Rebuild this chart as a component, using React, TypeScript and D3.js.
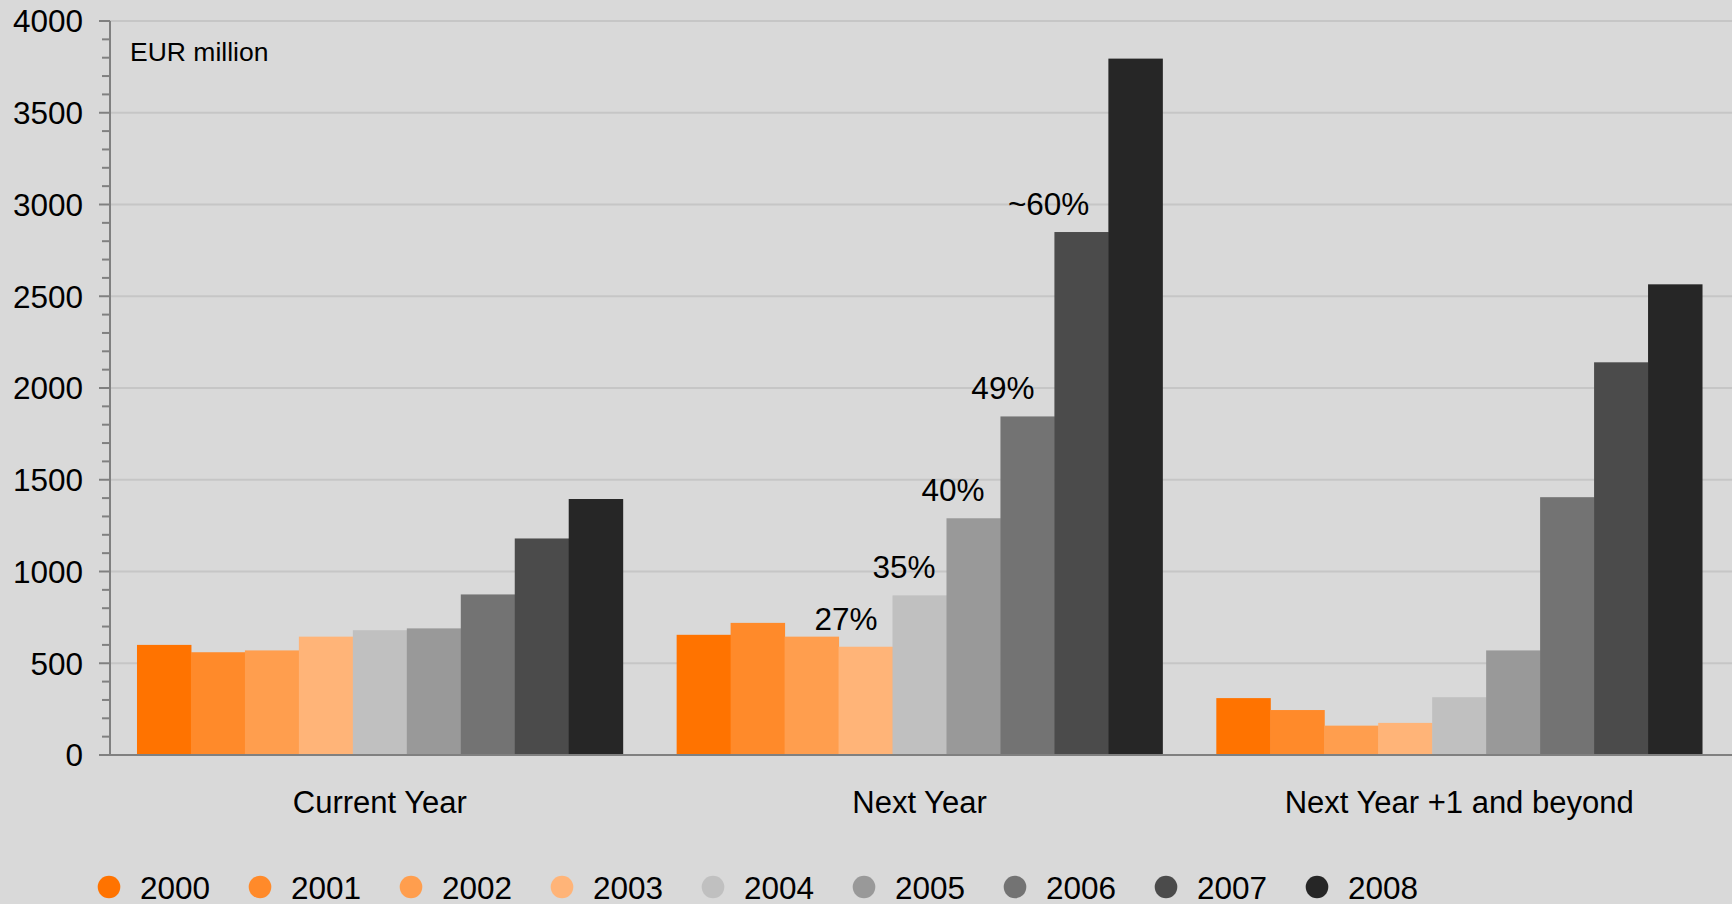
import React, { useEffect, useRef } from 'react';
import * as d3 from 'd3';

const categories = ['Current Year', 'Next Year', 'Next Year +1 and beyond'];
const years = ['2000', '2001', '2002', '2003', '2004', '2005', '2006', '2007', '2008'];

// values per year, in category order
const currentYear = [600, 560, 570, 645, 680, 690, 875, 1180, 1395];
const nextYear = [655, 720, 645, 590, 870, 1290, 1845, 2850, 3795];
const beyond = [310, 245, 160, 175, 315, 570, 1405, 2140, 2565];

const yTicks = [0, 500, 1000, 1500, 2000, 2500, 3000, 3500, 4000];

// share labels on the Next Year bars
const shareLabels = [
  { year: '2003', text: '27%', dx: -15 },
  { year: '2004', text: '35%', dx: -11 },
  { year: '2005', text: '40%', dx: -16 },
  { year: '2006', text: '49%', dx: -20 },
  { year: '2007', text: '~60%', dx: -19 },
];

const colors = ['#ff7300', '#ff8a2a', '#ff9e4e', '#ffb478', '#c0c0c0', '#999999', '#737373', '#4b4b4b', '#262626'];

const W = 1732;
const H = 904;
const FONT = '"Liberation Sans", Arial, sans-serif';

export default function App() {
  const svgRef = useRef<SVGSVGElement>(null);

  useEffect(() => {
    document.body.style.margin = '0';
    if (!svgRef.current) return;
    const svg = d3.select(svgRef.current);
    svg.selectAll('*').remove();

    const left = 110;
    const right = W;
    const top = 21;
    const bottom = 755;

    const series = [currentYear, nextYear, beyond];

    const x0 = d3.scaleBand<string>()
      .domain(categories)
      .range([left, 1729])
      .paddingInner(0.1)
      .paddingOuter(0.05);

    const x1 = d3.scaleBand<string>()
      .domain(years)
      .range([0, x0.bandwidth()])
      .padding(0);

    const y = d3.scaleLinear().domain([0, 4000]).range([bottom, top]);

    const color = d3.scaleOrdinal<string, string>().domain(years).range(colors);

    svg.append('rect').attr('width', W).attr('height', H).attr('fill', '#d9d9d9');

    // gridlines
    svg.append('g')
      .selectAll('line')
      .data(yTicks.slice(1))
      .enter()
      .append('line')
      .attr('x1', left)
      .attr('x2', right)
      .attr('y1', d => y(d))
      .attr('y2', d => y(d))
      .attr('stroke', '#c6c6c6')
      .attr('stroke-width', 2);

    // bars
    const groups = svg.append('g')
      .selectAll('g')
      .data(categories)
      .enter()
      .append('g')
      .attr('transform', d => `translate(${x0(d)},0)`);

    groups.selectAll('rect')
      .data((_, i) => years.map((yr, j) => ({ yr, v: series[i][j] })))
      .enter()
      .append('rect')
      .attr('x', d => x1(d.yr)!)
      .attr('y', d => y(d.v))
      .attr('width', x1.bandwidth() + 0.5)
      .attr('height', d => y(0) - y(d.v))
      .attr('fill', d => color(d.yr));

    // share labels
    const gx = x0('Next Year')!;
    svg.append('g')
      .selectAll('text')
      .data(shareLabels)
      .enter()
      .append('text')
      .attr('x', d => gx + x1(d.year)! + x1.bandwidth() + d.dx)
      .attr('y', d => y(nextYear[years.indexOf(d.year)]) - 17)
      .attr('text-anchor', 'end')
      .attr('font-family', FONT)
      .attr('font-size', 31.5)
      .attr('fill', '#000')
      .text(d => d.text);

    // y axis
    const yAxis = svg.append('g');
    yAxis.append('line')
      .attr('x1', left).attr('x2', left)
      .attr('y1', top).attr('y2', bottom)
      .attr('stroke', '#808080').attr('stroke-width', 2);

    const minor = d3.range(0, 4001, 100).filter(v => v % 500 !== 0);
    yAxis.selectAll('line.minor')
      .data(minor)
      .enter()
      .append('line')
      .attr('class', 'minor')
      .attr('x1', left - 8).attr('x2', left)
      .attr('y1', d => y(d)).attr('y2', d => y(d))
      .attr('stroke', '#808080').attr('stroke-width', 2);

    yAxis.selectAll('line.major')
      .data(yTicks)
      .enter()
      .append('line')
      .attr('class', 'major')
      .attr('x1', left - 11).attr('x2', left)
      .attr('y1', d => y(d)).attr('y2', d => y(d))
      .attr('stroke', '#808080').attr('stroke-width', 2);

    yAxis.selectAll('text')
      .data(yTicks)
      .enter()
      .append('text')
      .attr('x', 83)
      .attr('y', d => y(d))
      .attr('dy', '0.36em')
      .attr('text-anchor', 'end')
      .attr('font-family', FONT)
      .attr('font-size', 31.5)
      .attr('fill', '#000')
      .text(d => String(d));

    // x axis baseline
    svg.append('line')
      .attr('x1', left).attr('x2', right)
      .attr('y1', bottom).attr('y2', bottom)
      .attr('stroke', '#808080').attr('stroke-width', 2);

    svg.append('g')
      .selectAll('text')
      .data(categories)
      .enter()
      .append('text')
      .attr('x', d => x0(d)! + x0.bandwidth() / 2)
      .attr('y', 813)
      .attr('text-anchor', 'middle')
      .attr('font-family', FONT)
      .attr('font-size', 31)
      .attr('fill', '#000')
      .text(d => d);

    // unit label
    svg.append('text')
      .attr('x', 130)
      .attr('y', 61)
      .attr('font-family', FONT)
      .attr('font-size', 26.5)
      .attr('fill', '#000')
      .text('EUR million');

    // legend
    const legend = svg.append('g')
      .selectAll('g')
      .data(years)
      .enter()
      .append('g')
      .attr('transform', (_, i) => `translate(${109 + i * 151},887)`);

    legend.append('circle')
      .attr('r', 11.3)
      .attr('fill', d => color(d));

    legend.append('text')
      .attr('x', 31)
      .attr('y', 11.5)
      .attr('font-family', FONT)
      .attr('font-size', 31.5)
      .attr('fill', '#000')
      .text(d => d);
  }, []);

  return <svg ref={svgRef} width={W} height={H} style={{ display: 'block' }} />;
}
